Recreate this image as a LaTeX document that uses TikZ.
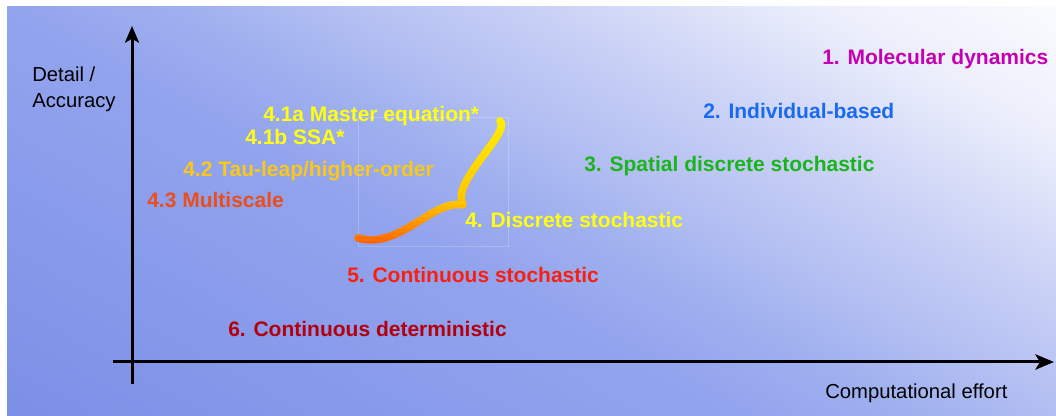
\documentclass[tikz,border=0pt]{standalone}
\usepackage{fontspec}
\setmainfont{Liberation Sans}
\usetikzlibrary{arrows.meta}

\definecolor{bgA}{HTML}{7B8FE6}
\definecolor{bgB}{HTML}{93A4EE}
\definecolor{bgC}{HTML}{9FB0EF}
\definecolor{bgD}{HTML}{B3BFF2}
\definecolor{bgE}{HTML}{C8D0F5}
\definecolor{bgF}{HTML}{ECEFFB}
\definecolor{bgG}{HTML}{FAFBFE}
\definecolor{cMD}{HTML}{C400B6}
\definecolor{cIB}{HTML}{1A6AF0}
\definecolor{cSp}{HTML}{1CB41C}
\definecolor{cDS}{HTML}{FFFF10}
\definecolor{cTau}{HTML}{F8C81C}
\definecolor{cMS}{HTML}{EA4E1C}
\definecolor{cCS}{HTML}{FA2010}
\definecolor{cCD}{HTML}{B4000C}
\definecolor{braceTop}{HTML}{FFF000}
\definecolor{braceMid}{HTML}{FFC400}
\definecolor{braceBot}{HTML}{FF5A00}

% Verlauf von unten links nach oben rechts
\pgfdeclarehorizontalshading{bgramp}{100bp}{color(0bp)=(bgA); color(25bp)=(bgA);
    color(45.8bp)=(bgB); color(50.4bp)=(bgC); color(54.7bp)=(bgD); color(60.2bp)=(bgE);
    color(68.3bp)=(bgF); color(75bp)=(bgG); color(100bp)=(bgG)}

\begin{document}
\begin{tikzpicture}[x=0.75pt, y=-0.75pt, >={Stealth[length=14pt, width=11.5pt, inset=3.5pt]},
    level/.style={anchor=base west, inner sep=0pt, font=\fontsize{15.75}{18}\selectfont\bfseries},
    axislabel/.style={inner sep=0pt, font=\fontsize{15.2}{19.5}\selectfont},
    bracepen/.style={line width=5.6pt, line cap=round, line join=round}]
    % Hintergrund
    \useasboundingbox (0,0) rectangle (1056,416);
    \fill[white] (0,0) rectangle (1056,416);
    \begin{scope}
        \clip (7,7) rectangle (1056,416);
        \begin{scope}[transform canvas={shift={(7,416)}, rotate=61}]
            \shade[shading=bgramp] (0,-220) rectangle (867,940);
        \end{scope}
    \end{scope}

    % Achsen
    \coordinate (ybot) at (132,384);
    \coordinate (ytop) at (132,26);
    \coordinate (xleft) at (113,362);
    \coordinate (xright) at (1054,362);
    \draw[line width=2.25pt, -{Stealth[length=12.5pt, width=10.5pt, inset=3pt]}] (ybot) -- (ytop);
    \draw[line width=2.25pt, ->] (xleft) -- (xright);
    \node[axislabel, anchor=north west, align=left] (accuracy) at (32,67) {Detail /\\Accuracy};
    \node[axislabel, anchor=base west] (effort) at (825,398) {Computational effort};

    % Modellebenen
    \node[level, text=cMD] (md) at (822,65) {1. Molecular dynamics};
    \node[level, text=cIB] (indiv) at (703,119) {2. Individual-based};
    \node[level, text=cSp] (spatial) at (584,172) {3. Spatial discrete stochastic};
    \node[level, text=cDS] (discrete) at (465,228) {4. Discrete stochastic};
    \node[level, text=cDS] (master) at (263,122) {4.1a Master equation*};
    \node[level, text=cDS] (ssa) at (245,145) {4.1b SSA*};
    \node[level, text=cTau] (tauleap) at (183,177) {4.2 Tau-leap/higher-order};
    \node[level, text=cMS] (multi) at (147,208) {4.3 Multiscale};
    \node[level, text=cCS] (contstoch) at (347,283) {5. Continuous stochastic};
    \node[level, text=cCD] (contdet) at (228,337) {6. Continuous deterministic};

    % Klammer mit Farbverlauf
    \draw[white, opacity=0.2, line width=0.75pt] (358,118) rectangle (508,247);
    \foreach \k in {0,...,33}{
        \pgfmathtruncatemacro\pa{min(100,100*\k/22)}
        \pgfmathtruncatemacro\pb{max(0,100*(\k-22)/11)}
        \begin{scope}
            \clip (340,114+4*\k) rectangle (520,118.6+4*\k);
            \draw[bracepen, color=braceBot!\pb!braceMid!\pa!braceTop]
                (500,121) .. controls (512,132) and (450,182) .. (463,205)
                .. controls (432,199) and (400,250) .. (358,238);
        \end{scope}
    }
\end{tikzpicture}
\end{document}
